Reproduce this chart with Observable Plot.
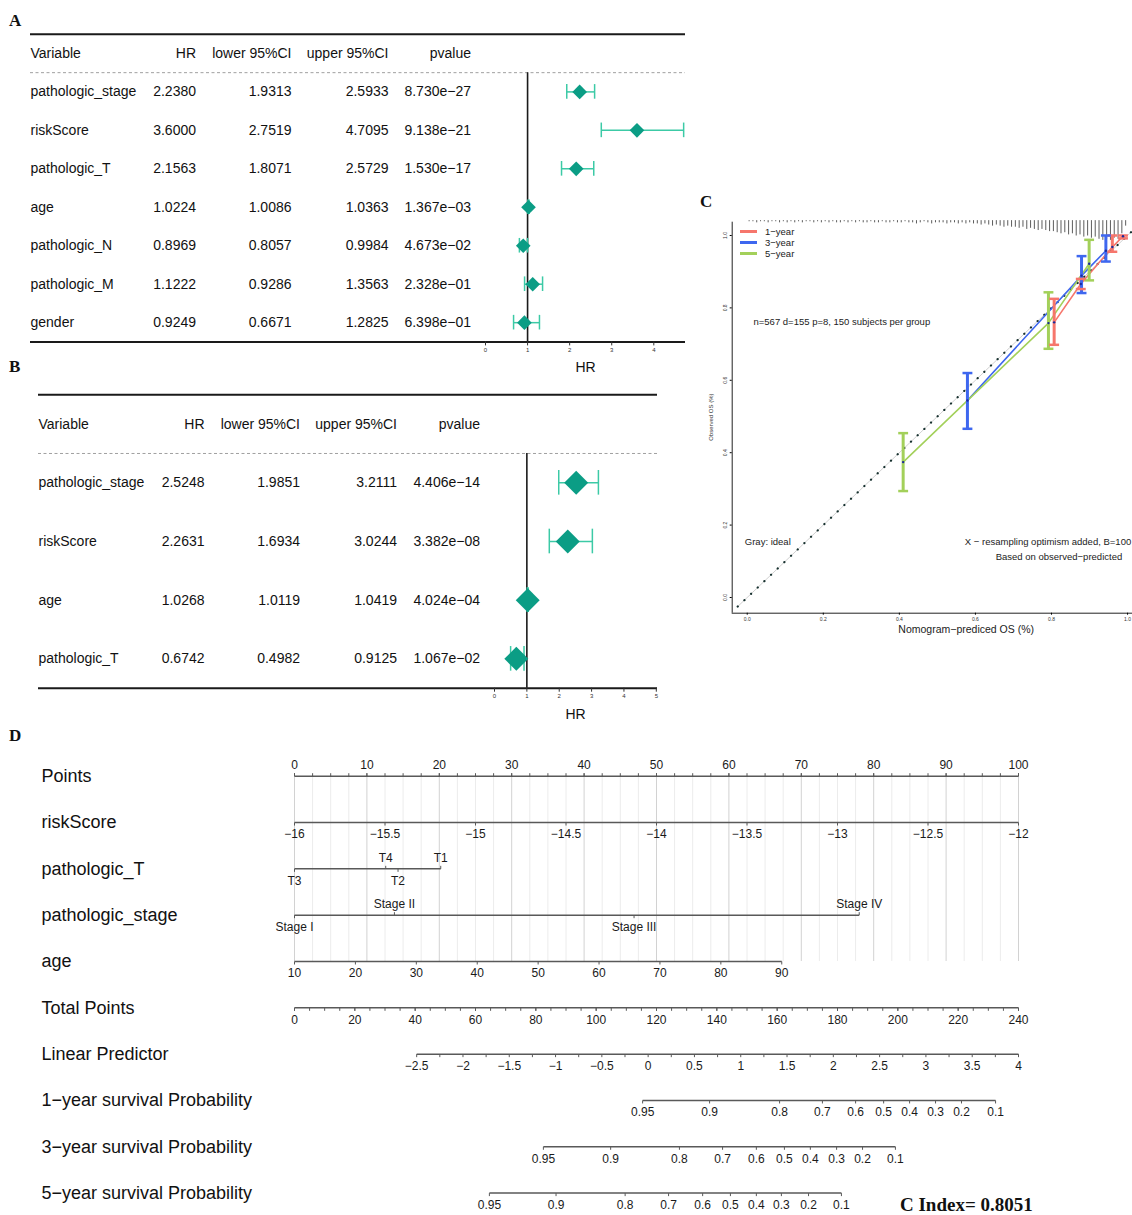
<!DOCTYPE html>
<html>
<head>
<meta charset="utf-8">
<script src="https://cdn.jsdelivr.net/npm/d3@7"></script>
<script src="https://cdn.jsdelivr.net/npm/@observablehq/plot@0.6"></script>
<style>
  html, body { margin: 0; padding: 0; background: #fff; }
  #root { position: relative; width: 1132px; height: 1215px; background: #fff; overflow: hidden; font-family: "Liberation Sans", Arial, sans-serif; }
  .plab { position: absolute; font-family: "Liberation Serif", "DejaVu Serif", serif; font-weight: bold; font-size: 17px; color: #111; line-height: 1; }
  .legend { position: absolute; font-family: "Liberation Sans", Arial, sans-serif; font-size: 9.5px; color: #222; }
  .legend div { display: flex; align-items: center; height: 10.8px; }
  .legend span { display: inline-block; width: 17px; height: 2.5px; margin-right: 8px; }
</style>
</head>
<body>
<div id="root"></div>
<script>
// ---------------- DATA ----------------
// Panel A: univariate Cox
const aVars  = ["pathologic_stage","riskScore","pathologic_T","age","pathologic_N","pathologic_M","gender"];
const aHR    = [2.2380, 3.6000, 2.1563, 1.0224, 0.8969, 1.1222, 0.9249];
const aLower = [1.9313, 2.7519, 1.8071, 1.0086, 0.8057, 0.9286, 0.6671];
const aUpper = [2.5933, 4.7095, 2.5729, 1.0363, 0.9984, 1.3563, 1.2825];
const aP     = [8.730e-27, 9.138e-21, 1.530e-17, 1.367e-03, 4.673e-02, 2.328e-01, 6.398e-01];
const aTicks = [0, 1, 2, 3, 4];

// Panel B: multivariate Cox
const bVars  = ["pathologic_stage","riskScore","age","pathologic_T"];
const bHR    = [2.5248, 2.2631, 1.0268, 0.6742];
const bLower = [1.9851, 1.6934, 1.0119, 0.4982];
const bUpper = [3.2111, 3.0244, 1.0419, 0.9125];
const bP     = [4.406e-14, 3.382e-08, 4.024e-04, 1.067e-02];
const bTicks = [0, 1, 2, 3, 4, 5];

const tableHeaders = ["Variable", "HR", "lower 95%CI", "upper 95%CI", "pvalue"];

// Panel C: calibration
const calYears  = ["1-year", "3-year", "5-year"];
const calColors = ["#f6766c", "#3e67ef", "#a3d05a"];
const cal1Pred = [0.807, 0.877, 0.960, 0.988];
const cal1Obs  = [0.760, 0.866, 0.968, 0.998];
const cal1Lo   = [0.698, 0.852, 0.955, 0.992];
const cal1Hi   = [0.825, 0.880, 1.000, 1.000];
const cal3Pred = [0.579, 0.879, 0.943];
const cal3Obs  = [0.544, 0.889, 0.958];
const cal3Lo   = [0.466, 0.841, 0.928];
const cal3Hi   = [0.620, 0.943, 1.000];
const cal5Pred = [0.410, 0.792, 0.899];
const cal5Obs  = [0.374, 0.758, 0.922];
const cal5Lo   = [0.294, 0.687, 0.876];
const cal5Hi   = [0.454, 0.843, 0.988];
const calTicks = [0, 0.2, 0.4, 0.6, 0.8, 1.0];
const idealEnds = [-0.025, 1.013];
// distribution of predicted values (spike histogram at top), bins of 0.01 from 0.00
const spikeCounts = [
  1,1,2,1,1,2,1,1,2,1,
  2,1,2,1,2,1,1,2,1,2,
  1,2,1,2,2,1,2,1,2,1,
  2,2,1,2,2,1,2,2,1,2,
  2,1,2,2,3,2,1,2,3,2,
  2,2,3,2,2,3,2,3,2,3,
  3,4,3,4,5,4,5,6,5,6,
  6,7,6,8,7,8,9,8,9,10,
  10,11,12,11,13,12,14,13,15,14,
  16,15,17,18,17,18,16,17,12,5
];

// Panel D: nomogram
const nomoRows = ["Points","riskScore","pathologic_T","pathologic_stage","age","Total Points","Linear Predictor",
  "1\u2212year survival Probability","3\u2212year survival Probability","5\u2212year survival Probability"];
const pointsTicks = [0,10,20,30,40,50,60,70,80,90,100];
const riskScoreTicks = [-16,-15.5,-15,-14.5,-14,-13.5,-13,-12.5,-12];
const tLevels = ["T3","T4","T2","T1"];
const tPoints = [0, 12.6, 14.3, 20.2];
const tAbove  = [false, true, false, true];
const stageLevels = ["Stage I","Stage II","Stage III","Stage IV"];
const stagePoints = [0, 13.8, 46.9, 78.0];
const stageAbove  = [false, true, false, true];
const ageTicks = [10,20,30,40,50,60,70,80,90];
const ageMaxPoints = 67.3;
const totalTicks = [0,20,40,60,80,100,120,140,160,180,200,220,240];
const lpTicks = [-2.5,-2,-1.5,-1,-0.5,0,0.5,1,1.5,2,2.5,3,3.5,4];
const lpAtTotal = [40.5, 240];
const survProbs = [0.95,0.9,0.8,0.7,0.6,0.5,0.4,0.3,0.2,0.1];
const surv1Total = [115.4,137.6,160.8,175.0,186.0,195.3,203.9,212.5,221.1,232.4];
const surv3Total = [82.5,104.8,127.6,141.9,153.1,162.4,171.0,179.7,188.3,199.2];
const surv5Total = [64.6,86.7,109.6,124.0,135.3,144.5,153.1,161.4,170.4,181.3];
const cIndex = 0.8051;

// ---------------- HELPERS ----------------
const root = document.getElementById("root");
const FONT = '"Liberation Sans", Arial, Helvetica, sans-serif';
function place(el, left, top) {
  el.style.position = "absolute";
  el.style.left = left + "px";
  el.style.top = top + "px";
  root.appendChild(el);
  return el;
}
function label(text, left, top, cls = "plab", extra = "") {
  const d = document.createElement("div");
  d.className = cls;
  d.textContent = text;
  d.style.cssText += extra;
  place(d, left, top);
  return d;
}
const minus = s => String(s).replace(/-/g, "\u2212");
const fmt4 = v => v.toFixed(4);
function fmtP(v) {
  const [m, e] = v.toExponential(3).split("e");
  const sign = e[0] === "-" ? "\u2212" : "+";
  return m + "e" + sign + e.slice(1).padStart(2, "0");
}

// ---------------- FOREST ----------------
function forest(cfg) {
  const n = cfg.vars.length;
  const rows = cfg.vars.map((v, i) => ({v, i: i + 1, hr: cfg.hr[i], lo: cfg.lo[i], hi: cfg.hi[i], p: cfg.p[i]}));
  const cols = [
    {h: tableHeaders[0], f: d => d.v, a: "start"},
    {h: tableHeaders[1], f: d => fmt4(d.hr), a: "end"},
    {h: tableHeaders[2], f: d => fmt4(d.lo), a: "end"},
    {h: tableHeaders[3], f: d => fmt4(d.hi), a: "end"},
    {h: tableHeaders[4], f: d => fmtP(d.p), a: "end"}
  ];
  const teal = "#0b9d85", ci = "#3ccaa6";
  const marks = [
    Plot.ruleY([-0.5, n + 0.5], {stroke: "#1a1a1a", strokeWidth: 2}),
    Plot.ruleY([0.5], {stroke: "#a0a0a0", strokeWidth: 1, strokeDasharray: "3,2.5"}),
    Plot.ruleX([1], {y1: 0.5, y2: n + 0.5, stroke: "#1a1a1a", strokeWidth: 1.6}),
    Plot.link(rows, {x1: "lo", x2: "hi", y1: "i", y2: "i", stroke: ci, strokeWidth: 1.5}),
    Plot.ruleX(rows, {x: "lo", y1: d => d.i - cfg.cap, y2: d => d.i + cfg.cap, stroke: ci, strokeWidth: 1.5}),
    Plot.ruleX(rows, {x: "hi", y1: d => d.i - cfg.cap, y2: d => d.i + cfg.cap, stroke: ci, strokeWidth: 1.5}),
    Plot.dot(rows, {x: "hr", y: "i", symbol: "diamond2", r: cfg.r, fill: teal, stroke: "none"}),
    Plot.axisX({ticks: cfg.ticks, tickFormat: "d", tickSize: 4, tickPadding: 1.5, fontSize: 6, label: null, stroke: "#333", fill: "#333"}),
    Plot.text(["HR"], {text: d => d, frameAnchor: "top-left", dx: cfg.hrX - cfg.ml, dy: cfg.hrY, textAnchor: "middle", fontSize: 14, fill: "#111"})
  ];
  cols.forEach((c, k) => {
    marks.push(Plot.text([c.h], {y: () => 0, text: d => d, frameAnchor: "left", dx: cfg.colX[k] - cfg.ml, textAnchor: c.a, fontSize: 14, fill: "#111"}));
    marks.push(Plot.text(rows, {y: "i", text: c.f, frameAnchor: "left", dx: cfg.colX[k] - cfg.ml, textAnchor: c.a, fontSize: 14, fill: "#111"}));
  });
  return Plot.plot({
    width: cfg.width, height: cfg.height,
    marginLeft: cfg.ml, marginRight: cfg.width - cfg.lineEnd, marginTop: 0, marginBottom: cfg.height - cfg.yRange[1],
    x: {domain: [cfg.ticks[0], cfg.ticks[cfg.ticks.length - 1]], range: cfg.xRange},
    y: {domain: [-0.5, n + 0.5], range: cfg.yRange, axis: null},
    style: {background: "transparent", fontFamily: FONT, overflow: "visible"},
    marks
  });
}

place(forest({
  vars: aVars, hr: aHR, lo: aLower, hi: aUpper, p: aP, ticks: aTicks,
  width: 700, height: 372, ml: 30, lineEnd: 685,
  xRange: [485, 653.3], yRange: [33.7, 341.4],
  colX: [30, 195.5, 291, 388, 470.5], hrX: 585, hrY: 362, cap: 0.19, r: 6.6
}), 0, 0);

place(forest({
  vars: bVars, hr: bHR, lo: bLower, hi: bUpper, p: bP, ticks: bTicks,
  width: 670, height: 360, ml: 38, lineEnd: 657,
  xRange: [494, 655.8], yRange: [34.3, 327.7],
  colX: [38, 204, 299.5, 396.5, 479.5], hrX: 575, hrY: 349, cap: 0.21, r: 10.8
}), 0, 360);

// ---------------- CALIBRATION ----------------
function calSeries(year, pred, obs, lo, hi) {
  return pred.map((p, i) => ({year, pred: p, obs: obs[i], lo: lo[i], hi: hi[i]}));
}
const cal = [
  ...calSeries(calYears[0], cal1Pred, cal1Obs, cal1Lo, cal1Hi),
  ...calSeries(calYears[1], cal3Pred, cal3Obs, cal3Lo, cal3Hi),
  ...calSeries(calYears[2], cal5Pred, cal5Obs, cal5Lo, cal5Hi)
];
const spikes = spikeCounts.map((n, i) => ({x: i / 100 + 0.005, n}));
const cX = [-0.0395, 1.013], cY = [-0.0434, 1.0367];
const spikeTop = 1.041, spikeUnit = 1 / 330, capW = 0.013;
const C = Plot.plot({
  width: 437, height: 450, marginLeft: 36.7, marginRight: 0, marginTop: 31.7, marginBottom: 27.3,
  x: {domain: cX, range: [36.7, 437]},
  y: {domain: cY, range: [422.7, 31.7]},
  color: {domain: calYears, range: calColors},
  style: {background: "transparent", fontFamily: FONT, overflow: "visible"},
  marks: [
    Plot.ruleX(spikes.filter(d => d.n > 0), {x: "x", y1: spikeTop, y2: d => spikeTop - d.n * spikeUnit, stroke: "#333", strokeWidth: 0.8}),
    Plot.line(idealEnds, {x: d => d, y: d => d, stroke: "#d0d0d0", strokeWidth: 1}),
    Plot.line(idealEnds, {x: d => d, y: d => d, stroke: "#16302e", strokeWidth: 2.2, strokeDasharray: "0.1,9.1", strokeLinecap: "round"}),
    Plot.line(cal, {x: "pred", y: "obs", z: "year", stroke: "year", strokeWidth: 1.6}),
    Plot.ruleX(cal, {x: "pred", y1: "lo", y2: "hi", stroke: "year", strokeWidth: 3}),
    Plot.link(cal, {x1: d => d.pred - capW, x2: d => d.pred + capW, y1: "lo", y2: "lo", stroke: "year", strokeWidth: 2.5}),
    Plot.link(cal, {x1: d => d.pred - capW, x2: d => d.pred + capW, y1: "hi", y2: "hi", stroke: "year", strokeWidth: 2.5}),
    Plot.dot(cal, {x: "pred", y: "obs", r: 1.2, fill: "#1b2a9a"}),
    Plot.ruleX([cX[0]], {stroke: "#222", strokeWidth: 1}),
    Plot.ruleY([cY[0]], {stroke: "#222", strokeWidth: 1}),
    Plot.axisX({ticks: calTicks, tickFormat: ".1f", fontSize: 5, tickSize: 2, tickPadding: 2, label: null, fill: "#333"}),
    Plot.axisY({ticks: calTicks, tickFormat: ".1f", fontSize: 5, tickSize: 2, tickPadding: 3, tickRotate: -90, label: null, fill: "#333"}),
    Plot.text(["n=567 d=155 p=8, 150 subjects per group"], {text: d => d, frameAnchor: "top-left", dx: 21.3, dy: 96.3, textAnchor: "start", fontSize: 9.5, fill: "#222"}),
    Plot.text(["Gray: ideal"], {text: d => d, frameAnchor: "top-left", dx: 12.6, dy: 315.6, textAnchor: "start", fontSize: 9.5, fill: "#222"}),
    Plot.text(["X \u2212 resampling optimism added, B=100"], {text: d => d, frameAnchor: "top-right", dx: -1.3, dy: 315.6, textAnchor: "end", fontSize: 9.5, fill: "#222"}),
    Plot.text(["Based on observed\u2212predicted"], {text: d => d, frameAnchor: "top-right", dx: -10.3, dy: 330.6, textAnchor: "end", fontSize: 9.5, fill: "#222"}),
    Plot.text(["Nomogram\u2212prediced OS (%)"], {text: d => d, frameAnchor: "bottom-left", dx: 234, dy: 19.5, textAnchor: "middle", fontSize: 10.5, fill: "#222"}),
    Plot.text(["Observed OS (%)"], {text: d => d, frameAnchor: "left", dx: -20.7, dy: -0.5, rotate: -90, textAnchor: "middle", fontSize: 6, fill: "#333"})
  ]
});
place(C, 695, 190);

// legend for C
const lg = document.createElement("div");
lg.className = "legend";
lg.innerHTML = calYears.map((y, i) => `<div><span style="background:${calColors[i]}"></span>${y.replace("-", "\u2212")}</div>`).join("");
place(lg, 740, 226.3);

// ---------------- NOMOGRAM ----------------
const riskRange = [riskScoreTicks[0], riskScoreTicks[riskScoreTicks.length - 1]];
const toPts = {
  risk: v => (v - riskRange[0]) / (riskRange[1] - riskRange[0]) * 100,
  age: v => (v - ageTicks[0]) / (ageTicks[ageTicks.length - 1] - ageTicks[0]) * ageMaxPoints,
  total: v => v / totalTicks[totalTicks.length - 1] * 100,
  lp: v => toPts.total(lpAtTotal[0] + (v - lpTicks[0]) / (lpTicks[lpTicks.length - 1] - lpTicks[0]) * (lpAtTotal[1] - lpAtTotal[0]))
};
const ticks = [];
pointsTicks.forEach(v => ticks.push({row: 0, pts: v, label: String(v), above: true}));
d3.range(0, 100.001, 2.5).forEach(v => ticks.push({row: 0, pts: v, label: null, above: true}));
riskScoreTicks.forEach(v => ticks.push({row: 1, pts: toPts.risk(v), label: minus(v), above: false}));
tLevels.forEach((l, i) => ticks.push({row: 2, pts: tPoints[i], label: l, above: tAbove[i]}));
stageLevels.forEach((l, i) => ticks.push({row: 3, pts: stagePoints[i], label: l, above: stageAbove[i]}));
ageTicks.forEach(v => ticks.push({row: 4, pts: toPts.age(v), label: String(v), above: false}));
totalTicks.forEach(v => ticks.push({row: 5, pts: toPts.total(v), label: String(v), above: false}));
d3.range(0, 240.001, 5).forEach(v => ticks.push({row: 5, pts: toPts.total(v), label: null, above: false}));
lpTicks.forEach(v => ticks.push({row: 6, pts: toPts.lp(v), label: minus(v), above: false}));
d3.range(-2.25, 4, 0.5).forEach(v => ticks.push({row: 6, pts: toPts.lp(v), label: null, above: false}));
[surv1Total, surv3Total, surv5Total].forEach((arr, k) =>
  arr.forEach((t, i) => ticks.push({row: 7 + k, pts: toPts.total(t), label: String(survProbs[i]), above: false})));

const axisLines = d3.groups(ticks, d => d.row).map(([row, g]) => ({row, x1: d3.min(g, d => d.pts), x2: d3.max(g, d => d.pts)}));
const gridAll = d3.range(0, 100.001, 2.5);
const gridMajor = gridAll.filter(v => v % 10 === 0);
const gridMinor = gridAll.filter(v => v % 10 !== 0);
const tickLen = 0.065;

const D = Plot.plot({
  width: 1132, height: 475, marginLeft: 0, marginRight: 0, marginTop: 0, marginBottom: 0,
  x: {domain: [0, 100], range: [294, 1018], axis: null},
  y: {domain: [0, 9], range: [35.7, 452.6], axis: null},
  style: {background: "transparent", fontFamily: FONT, overflow: "visible"},
  marks: [
    Plot.ruleX(gridMinor, {x: d => d, y1: 0, y2: 4, stroke: "#ececec", strokeWidth: 1}),
    Plot.ruleX(gridMajor, {x: d => d, y1: 0, y2: 4, stroke: "#d2d2d2", strokeWidth: 1}),
    Plot.link(axisLines, {x1: "x1", x2: "x2", y1: "row", y2: "row", stroke: "#595959", strokeWidth: 1.5}),
    Plot.link(ticks, {x1: "pts", x2: "pts", y1: "row", y2: d => d.row + (d.above ? -tickLen : tickLen), stroke: "#595959", strokeWidth: 1}),
    Plot.text(ticks.filter(d => d.label && d.above), {x: "pts", y: "row", text: "label", dy: -11, fontSize: 12, fill: "#1a1a1a"}),
    Plot.text(ticks.filter(d => d.label && !d.above), {x: "pts", y: "row", text: "label", dy: 12, fontSize: 12, fill: "#1a1a1a"}),
    Plot.text(nomoRows, {y: (d, i) => i, text: d => d, frameAnchor: "left", dx: 41, textAnchor: "start", fontSize: 18, fill: "#111"})
  ]
});
place(D, 0, 740);

// ---------------- LABELS ----------------
label("A", 9, 12);
label("B", 9, 358);
label("C", 700, 193);
label("D", 9, 727);
label("C Index= " + cIndex.toFixed(4), 900, 1195, "plab", "font-size:19px;");
</script>
</body>
</html>
